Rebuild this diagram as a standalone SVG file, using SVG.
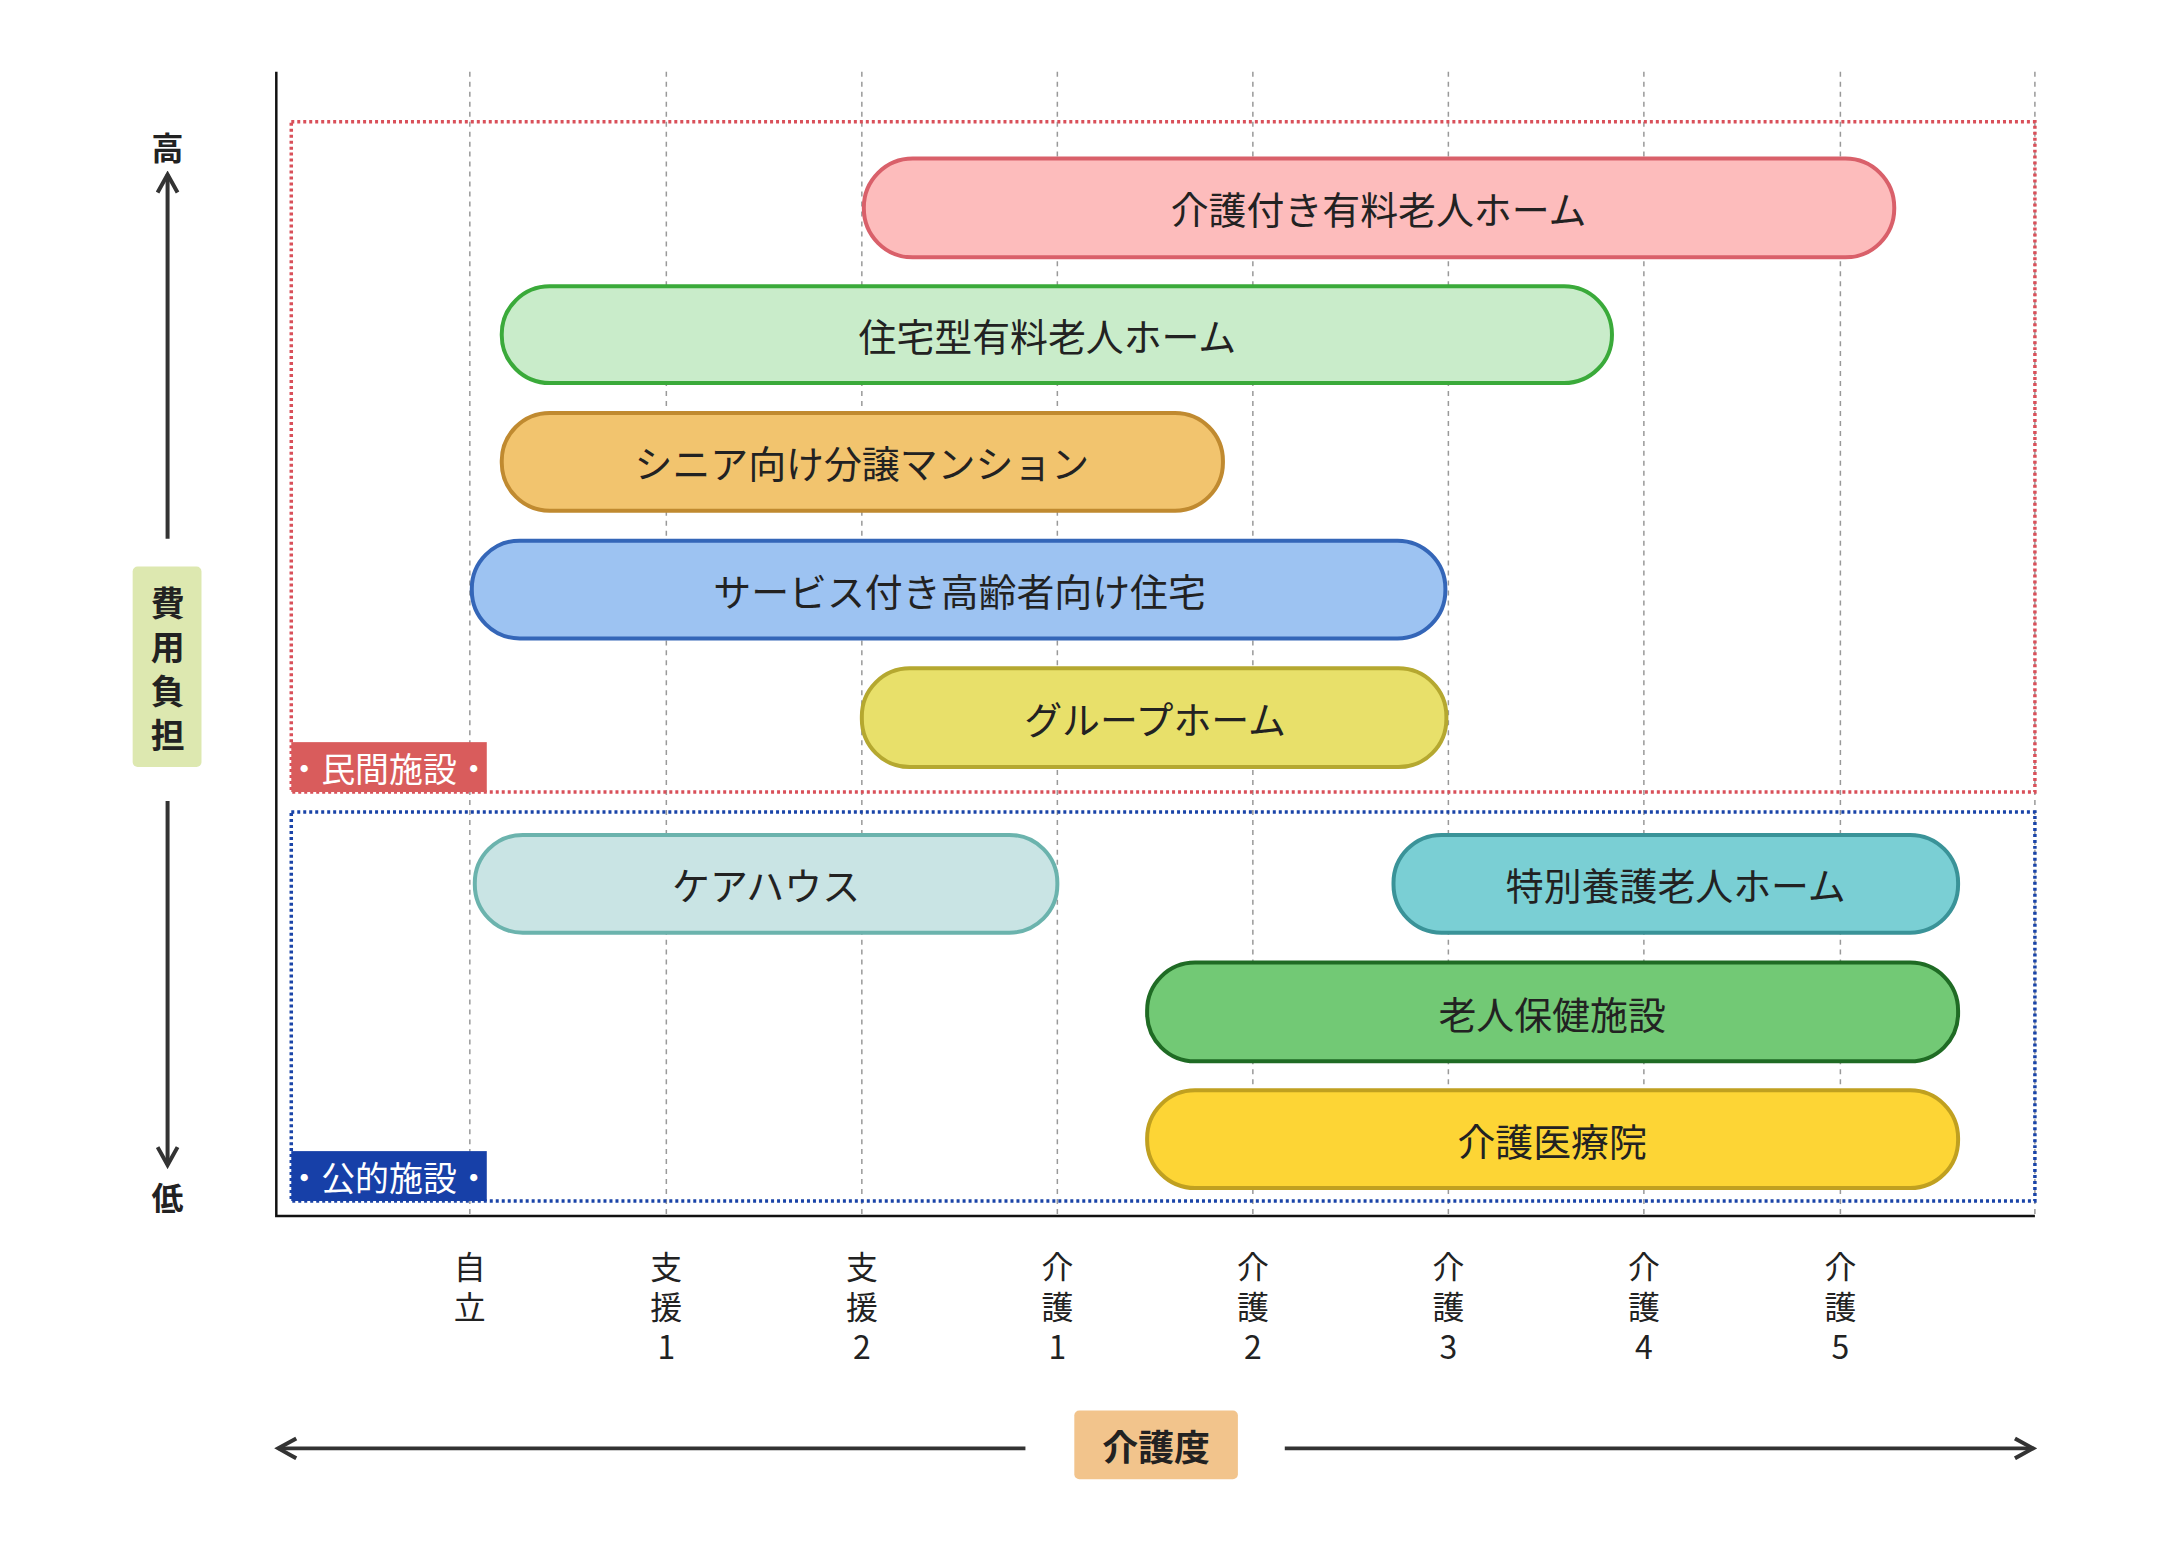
<svg xmlns="http://www.w3.org/2000/svg" width="2166" height="1552" viewBox="0 0 2166 1552">
<style>
text{font-family:"Noto Sans CJK JP","Noto Sans",sans-serif;fill:#222}
.bar{stroke-width:4}
.bt{font-size:38px;text-anchor:middle;dominant-baseline:central}
.grid{stroke:#999;stroke-width:1.5;stroke-dasharray:5 5}
.tick{font-size:32px;text-anchor:middle}
.ax{stroke:#333;stroke-width:4;fill:none}
.lbl{font-size:34px;fill:#fff;text-anchor:middle;dominant-baseline:central}
</style>
<defs>
<marker id="ah" viewBox="0 0 12 12" refX="10" refY="6" markerWidth="6" markerHeight="6" orient="auto"><path d="M1,1 L10,6 L1,11" fill="none" stroke="#333" stroke-width="2"/></marker>
</defs>
<rect width="2166" height="1552" fill="#fff"/>
<g transform="scale(0.9975)">
<g id="grid">
<line class="grid" x1="471" y1="72" x2="471" y2="1219"/>
<line class="grid" x1="668" y1="72" x2="668" y2="1219"/>
<line class="grid" x1="864" y1="72" x2="864" y2="1219"/>
<line class="grid" x1="1060" y1="72" x2="1060" y2="1219"/>
<line class="grid" x1="1256" y1="72" x2="1256" y2="1219"/>
<line class="grid" x1="1452" y1="72" x2="1452" y2="1219"/>
<line class="grid" x1="1648" y1="72" x2="1648" y2="1219"/>
<line class="grid" x1="1845" y1="72" x2="1845" y2="1219"/>
<line class="grid" x1="2040" y1="72" x2="2040" y2="1219"/>
</g>
<g id="regions">
<rect x="292" y="122" width="1748" height="672" fill="none" stroke="#d9505a" stroke-width="3.5" stroke-dasharray="3 3"/>
<rect x="292" y="814" width="1748" height="390" fill="none" stroke="#1a44a8" stroke-width="3.5" stroke-dasharray="3 3"/>
<rect x="292" y="744" width="196" height="50" fill="#d95c5c"/>
<text class="lbl" x="390" y="769">・民間施設・</text>
<rect x="292" y="1154" width="196" height="50" fill="#1740a8"/>
<text class="lbl" x="390" y="1179">・公的施設・</text>
</g>
<g id="axes">
<polyline points="277,72 277,1219 2040,1219" fill="none" stroke="#111" stroke-width="2.5"/>
</g>
<g id="connectors">
<line class="ax" x1="168" y1="540" x2="168" y2="175" marker-end="url(#ah)"/>
<line class="ax" x1="168" y1="803" x2="168" y2="1168" marker-end="url(#ah)"/>
<line class="ax" x1="1028" y1="1452" x2="279" y2="1452" marker-end="url(#ah)"/>
<line class="ax" x1="1288" y1="1452" x2="2038" y2="1452" marker-end="url(#ah)"/>
</g>
<g id="n1"><rect class="bar" x="866" y="159" width="1033" height="99" rx="49" fill="#fdbcbc" stroke="#d9606a"/><text class="bt" x="1382" y="208">介護付き有料老人ホーム</text></g>
<g id="n2"><rect class="bar" x="503" y="287" width="1113" height="97" rx="48" fill="#c9ecca" stroke="#3aaa3a"/><text class="bt" x="1050" y="335">住宅型有料老人ホーム</text></g>
<g id="n3"><rect class="bar" x="503" y="414" width="723" height="98" rx="48" fill="#f2c46e" stroke="#c08a30"/><text class="bt" x="864" y="463">シニア向け分譲マンション</text></g>
<g id="n4"><rect class="bar" x="473" y="542" width="976" height="98" rx="48" fill="#9dc3f2" stroke="#3466b8"/><text class="bt" x="962" y="591">サービス付き高齢者向け住宅</text></g>
<g id="n5"><rect class="bar" x="864" y="670" width="586" height="99" rx="48" fill="#e8e06a" stroke="#b5a830"/><text class="bt" x="1158" y="719">グループホーム</text></g>
<g id="n6"><rect class="bar" x="476" y="837" width="584" height="98" rx="48" fill="#c9e4e4" stroke="#6bb3ad"/><text class="bt" x="768" y="886">ケアハウス</text></g>
<g id="n7"><rect class="bar" x="1397" y="837" width="566" height="98" rx="48" fill="#7acfd4" stroke="#3a9398"/><text class="bt" x="1680" y="886">特別養護老人ホーム</text></g>
<g id="n8"><rect class="bar" x="1150" y="965" width="813" height="99" rx="48" fill="#72c975" stroke="#1f6b24"/><text class="bt" x="1556" y="1015">老人保健施設</text></g>
<g id="n9"><rect class="bar" x="1150" y="1093" width="813" height="98" rx="48" fill="#fdd535" stroke="#c0a020"/><text class="bt" x="1556" y="1142">介護医療院</text></g>
<g id="yaxis">
<text x="168" y="160" font-size="32" font-weight="bold" text-anchor="middle">高</text>
<rect x="133" y="568" width="69" height="201" rx="5" fill="#dde8b0"/>
<text font-size="34" font-weight="bold" text-anchor="middle"><tspan x="168" y="618">費</tspan><tspan x="168" y="662">用</tspan><tspan x="168" y="706">負</tspan><tspan x="168" y="750">担</tspan></text>
<text x="168" y="1213" font-size="32" font-weight="bold" text-anchor="middle">低</text>
</g>
<g id="xaxis">
<text class="tick"><tspan x="471" y="1282">自</tspan><tspan x="471" y="1322">立</tspan></text>
<text class="tick"><tspan x="668" y="1282">支</tspan><tspan x="668" y="1322">援</tspan><tspan x="668" y="1362">1</tspan></text>
<text class="tick"><tspan x="864" y="1282">支</tspan><tspan x="864" y="1322">援</tspan><tspan x="864" y="1362">2</tspan></text>
<text class="tick"><tspan x="1060" y="1282">介</tspan><tspan x="1060" y="1322">護</tspan><tspan x="1060" y="1362">1</tspan></text>
<text class="tick"><tspan x="1256" y="1282">介</tspan><tspan x="1256" y="1322">護</tspan><tspan x="1256" y="1362">2</tspan></text>
<text class="tick"><tspan x="1452" y="1282">介</tspan><tspan x="1452" y="1322">護</tspan><tspan x="1452" y="1362">3</tspan></text>
<text class="tick"><tspan x="1648" y="1282">介</tspan><tspan x="1648" y="1322">護</tspan><tspan x="1648" y="1362">4</tspan></text>
<text class="tick"><tspan x="1845" y="1282">介</tspan><tspan x="1845" y="1322">護</tspan><tspan x="1845" y="1362">5</tspan></text>
<rect x="1077" y="1414" width="164" height="69" rx="5" fill="#f2c48c"/>
<text x="1159" y="1449" font-size="36" font-weight="bold" text-anchor="middle" dominant-baseline="central">介護度</text>
</g>
</g>
</svg>
